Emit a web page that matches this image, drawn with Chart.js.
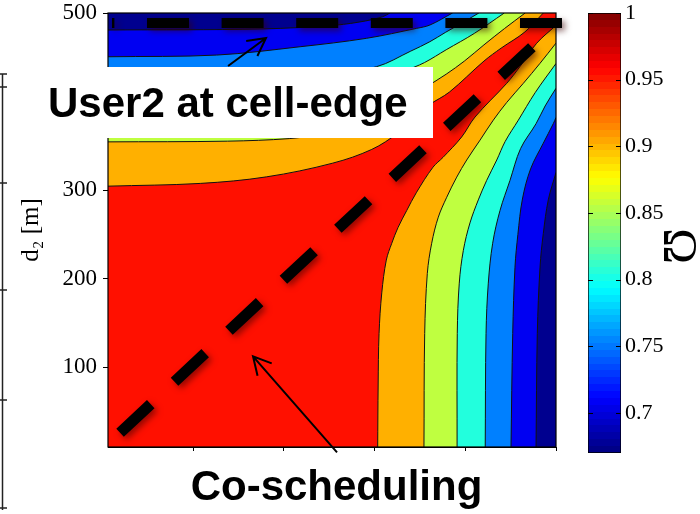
<!DOCTYPE html>
<html>
<head>
<meta charset="utf-8">
<script src="https://cdn.jsdelivr.net/npm/chart.js@4.4.0/dist/chart.umd.min.js"></script>
<style>
  body { margin: 0; background: #fff; }
  #wrap { position: relative; width: 700px; height: 514px; }
  #wrap canvas { position: absolute; left: 0; top: 0; }
</style>
</head>
<body>
<div id="wrap">
  <canvas id="main" width="700" height="514"></canvas>
  <canvas id="cbar" width="700" height="514"></canvas>
</div>
<script>
// axes (metres) and colour scale
var xLimits = [6.3, 500];
var yLimits = [10, 500];
var xTicks = [100, 200, 300, 400, 500];
var yTicks = [100, 200, 300, 400, 500];
var cbLimits = [0.67, 1];
var cbTicks = [0.7, 0.75, 0.8, 0.85, 0.9, 0.95, 1];

// contour lines as [d1, d2]
// rightLineN runs from the bottom edge to the right edge,
// upperLineN runs from the left edge to the top edge (same level)
var rightLine1 = [[478, 10], [479.4, 138], [482.4, 213], [486, 251], [491.5, 289], [500, 320]];
var upperLine1 = [[6.3, 480.8], [176, 482], [257.5, 486.4], [290, 491], [309, 495.8], [317, 500]];
var rightLine2 = [[450.4, 10], [452.3, 138], [454.8, 213], [458, 250], [463, 290], [472, 324], [486, 353], [497, 375], [500, 382]];
var upperLine2 = [[6.3, 450.6], [126, 452.5], [218, 461.9], [291, 471.4], [346.5, 482.7], [361, 486.4], [386, 500]];
var rightLine3 = [[422, 10], [422.9, 138], [425.4, 195], [430.2, 240], [438.3, 277], [449.3, 311], [461, 347], [478, 375], [488, 395], [500, 415]];
var upperLine3 = [[6.3, 422], [138, 423], [195, 425.5], [240, 429], [302, 439.3], [340, 457], [361, 467.6], [378, 478], [395, 488], [415, 500]];
var rightLine4 = [[391, 10], [391.2, 138], [393.4, 195], [397.9, 232], [405.2, 263], [414.4, 289], [423.6, 311], [434.7, 334], [444, 355], [458.5, 379], [477, 410], [500, 443]];
var upperLine4 = [[6.3, 391], [138, 391.2], [195, 393.4], [232, 397.9], [263, 405.2], [289, 414.4], [311, 423.6], [334, 434.7], [355, 444], [379, 458.5], [410, 477], [443, 500]];
var rightLine5 = [[354.5, 10], [355.3, 138], [358.2, 206], [363, 240], [370.3, 269.5], [379.6, 292], [390.6, 314.7], [401.6, 334], [416.3, 356.5], [430.9, 379], [445.7, 399], [464, 420.6], [482.4, 443.2], [500, 466]];
var upperLine5 = [[6.3, 354.5], [138, 355.3], [206, 358.2], [240, 363], [269.5, 370.3], [292, 379.6], [314.7, 390.6], [334, 401.6], [356.5, 416.3], [379, 430.9], [399, 445.7], [420.6, 464], [443.2, 482.4], [466, 500]];
var rightLine6 = [[303.5, 10], [304, 80], [305, 138], [308, 184], [313, 221], [319, 240], [326, 258], [335.5, 277], [346, 297], [364.5, 326], [375.5, 337], [396, 360], [410.7, 382.5], [445.7, 420.6], [460.3, 439.5], [478.7, 465.8], [500, 486]];
var upperLine6 = [[6.3, 304.5], [108, 307.6], [181, 315], [254, 330.5], [297, 346], [326, 364.5], [337, 375.5], [360, 396], [382.5, 410.7], [420.6, 445.7], [439.5, 460.3], [465.8, 478.7], [486, 500]];

var rightLines = [rightLine1, rightLine2, rightLine3, rightLine4, rightLine5, rightLine6];
var upperLines = [upperLine1, upperLine2, upperLine3, upperLine4, upperLine5, upperLine6];

// annotations
var diagonal = [[19.6, 26], [473.6, 461.6]];
var edgeLine = [[10.7, 488.7], [506.6, 488.7]];
var arrowEdge = [[138.6, 440.1], [180.4, 471.8]];
var arrowCo = [[258.7, 4], [166.1, 112.4]];
var edgeLabel = 'User2 at cell-edge';
var coLabel = 'Co-scheduling';
var yTitle = 'd\u2082 [m]';
var cbTitle = '\u03A9';

var lowColor = '#00008f';
var levelColors = ['#0000f2', '#0080ff', '#22ffdd', '#bfff40', '#ffb000', '#ff1000'];
var curve = 0.35;

function pts(list) {
    return list.map(function (p) { return {x: p[0], y: p[1]}; });
}

// repeat the end points so the curve keeps sharp corners there
function ends(list) {
    return [list[0]].concat(list, [list[list.length - 1]]);
}

// area above a level: bottom-left corner, right line, top-right corner, upper line back
function region(r, u) {
    var corner0 = [xLimits[0], yLimits[0]];
    var corner1 = [xLimits[1], yLimits[1]];
    return pts([corner0, corner0].concat(ends(r), [corner1, corner1], ends(u.slice().reverse()), [corner0, corner0]));
}

var datasets = [];
for (var k = 0; k < 6; k++) {
    datasets.push({
        data: region(rightLines[k], upperLines[k]),
        fill: 'shape',
        backgroundColor: levelColors[k],
        borderWidth: 0,
        pointRadius: 0,
        tension: curve,
        order: 20 - k
    });
}
for (var k = 0; k < 6; k++) {
    [rightLines[k], upperLines[k]].forEach(function (line) {
        datasets.push({
            data: pts(line),
            fill: false,
            borderColor: '#111',
            borderWidth: 1,
            pointRadius: 0,
            tension: curve,
            order: 5
        });
    });
}
datasets.push({
    data: pts(diagonal),
    borderColor: '#000',
    borderWidth: 11,
    borderDash: [42, 32.6],
    borderCapStyle: 'butt',
    pointRadius: 0,
    shadow: true,
    order: 1
});
datasets.push({
    data: pts(edgeLine),
    borderColor: '#000',
    borderWidth: 10,
    borderDash: [42, 32.6],
    borderDashOffset: 39.6,
    borderCapStyle: 'butt',
    pointRadius: 0,
    clip: false,
    shadow: true,
    order: 0
});

function drawArrow(ctx, x1, y1, x2, y2) {
    var ang = Math.atan2(y1 - y2, x1 - x2), L = 20, h = 0.49;
    ctx.beginPath();
    ctx.moveTo(x1, y1);
    ctx.lineTo(x2, y2);
    ctx.moveTo(x2 + L * Math.cos(ang + h), y2 + L * Math.sin(ang + h));
    ctx.lineTo(x2, y2);
    ctx.lineTo(x2 + L * Math.cos(ang - h), y2 + L * Math.sin(ang - h));
    ctx.stroke();
}

var decor = {
    id: 'decor',
    beforeDatasetsDraw: function (chart) {
        var a = chart.chartArea, ctx = chart.ctx;
        ctx.save();
        ctx.fillStyle = lowColor;
        ctx.fillRect(a.left, a.top, a.right - a.left, a.bottom - a.top);
        ctx.restore();
    },
    beforeDatasetDraw: function (chart, args) {
        if (chart.data.datasets[args.index].shadow) {
            var ctx = chart.ctx;
            ctx.save();
            ctx.shadowColor = 'rgba(60,0,0,0.55)';
            ctx.shadowBlur = 6;
            ctx.shadowOffsetX = 3;
            ctx.shadowOffsetY = 3;
        }
    },
    afterDatasetDraw: function (chart, args) {
        if (chart.data.datasets[args.index].shadow) chart.ctx.restore();
    },
    afterDatasetsDraw: function (chart) {
        var a = chart.chartArea, ctx = chart.ctx;
        ctx.save();
        ctx.strokeStyle = '#000';
        ctx.lineWidth = 1.2;
        ctx.strokeRect(a.left, a.top, a.right - a.left, a.bottom - a.top);
        ctx.restore();
    },
    afterDraw: function (chart) {
        var ctx = chart.ctx, xs = chart.scales.x, ys = chart.scales.y;
        ctx.save();
        ctx.fillStyle = '#fff';
        ctx.fillRect(8, 451, 570, 63);
        ctx.fillRect(24, 67, 409, 71);

        ctx.fillStyle = '#000';
        ctx.font = 'bold 42px "Liberation Sans", Arial, sans-serif';
        ctx.textBaseline = 'alphabetic';
        ctx.textAlign = 'left';
        ctx.fillText(edgeLabel, 48, 117);
        ctx.textAlign = 'center';
        ctx.fillText(coLabel, 336.5, 500);

        ctx.strokeStyle = '#000';
        ctx.lineWidth = 2;
        [arrowEdge, arrowCo].forEach(function (a) {
            drawArrow(ctx, xs.getPixelForValue(a[0][0]), ys.getPixelForValue(a[0][1]),
                xs.getPixelForValue(a[1][0]), ys.getPixelForValue(a[1][1]));
        });

        // edge of the neighbouring panel on the far left
        ctx.lineWidth = 1.5;
        ctx.strokeStyle = '#222';
        ctx.beginPath();
        ctx.moveTo(2.5, 74); ctx.lineTo(2.5, 510);
        [74, 87, 183, 290, 400, 508].forEach(function (y) {
            ctx.moveTo(0, y); ctx.lineTo(7, y);
        });
        ctx.stroke();
        ctx.restore();
    }
};

var serif = '"Times New Roman", "Liberation Serif", serif';

new Chart(document.getElementById('main'), {
    type: 'line',
    data: {datasets: datasets},
    options: {
        responsive: false,
        animation: false,
        devicePixelRatio: 1,
        layout: {padding: {left: 0, top: 13, right: 144, bottom: 57}},
        plugins: {legend: {display: false}, tooltip: {enabled: false}},
        scales: {
            x: {
                type: 'linear',
                min: xLimits[0],
                max: xLimits[1],
                afterBuildTicks: function (s) { s.ticks = xTicks.map(function (v) { return {value: v}; }); },
                afterFit: function (s) { s.height = 10; s.paddingLeft = 0; s.paddingRight = 0; },
                grid: {drawOnChartArea: false, drawTicks: true, tickLength: 4, color: '#000'},
                border: {display: true, color: '#000'},
                ticks: {display: false}
            },
            y: {
                type: 'linear',
                min: yLimits[0],
                max: yLimits[1],
                afterBuildTicks: function (s) { s.ticks = yTicks.map(function (v) { return {value: v}; }); },
                afterFit: function (s) { s.width = 108; s.paddingTop = 0; s.paddingBottom = 0; },
                grid: {drawOnChartArea: false, drawTicks: true, tickLength: 5, color: '#000'},
                border: {display: true, color: '#000'},
                ticks: {padding: 6, color: '#000', font: {family: serif, size: 23, lineHeight: 1}},
                title: {display: true, text: yTitle, color: '#000', padding: {top: 18, bottom: 0},
                    font: {family: serif, size: 25, lineHeight: 1.1}}
            }
        }
    },
    plugins: [decor]
});

// colour bar
function jet(t) {
    function c(v) { return Math.round(255 * Math.max(0, Math.min(1, v))); }
    return 'rgb(' + c(1.5 - Math.abs(4 * t - 3)) + ',' + c(1.5 - Math.abs(4 * t - 2)) + ',' + c(1.5 - Math.abs(4 * t - 1)) + ')';
}

var cbDecor = {
    id: 'cbDecor',
    afterDraw: function (chart) {
        var ctx = chart.ctx, a = chart.chartArea, ys = chart.scales.y;
        ctx.save();
        ctx.strokeStyle = '#000';
        ctx.lineWidth = 1;
        ctx.beginPath();
        cbTicks.forEach(function (v) {
            var y = Math.round(ys.getPixelForValue(v)) + 0.5;
            ctx.moveTo(a.left, y); ctx.lineTo(a.left + 5, y);
            ctx.moveTo(a.right - 5, y); ctx.lineTo(a.right, y);
        });
        ctx.stroke();
        ctx.translate(680, 246);
        ctx.rotate(Math.PI / 2);
        ctx.fillStyle = '#000';
        ctx.font = '48px ' + serif;
        ctx.textAlign = 'center';
        ctx.textBaseline = 'alphabetic';
        ctx.fillText(cbTitle, 0, 16);
        ctx.restore();
    }
};

new Chart(document.getElementById('cbar'), {
    type: 'bar',
    data: {
        labels: [''],
        datasets: [{
            data: [cbLimits],
            backgroundColor: function (c) {
                var area = c.chart.chartArea;
                if (!area) return 'transparent';
                var g = c.chart.ctx.createLinearGradient(0, area.bottom, 0, area.top);
                for (var i = 0; i < 64; i++) {
                    var col = jet((i + 0.5) / 64);
                    g.addColorStop(i / 64, col);
                    g.addColorStop((i + 1) / 64, col);
                }
                return g;
            },
            borderColor: '#000',
            borderWidth: 1,
            borderSkipped: false,
            barPercentage: 1,
            categoryPercentage: 1
        }]
    },
    options: {
        responsive: false,
        animation: false,
        devicePixelRatio: 1,
        layout: {padding: {left: 588, top: 13, right: 0, bottom: 61}},
        plugins: {legend: {display: false}, tooltip: {enabled: false}},
        scales: {
            x: {display: false},
            y: {
                position: 'right',
                min: cbLimits[0],
                max: cbLimits[1],
                afterBuildTicks: function (s) { s.ticks = cbTicks.map(function (v) { return {value: v}; }); },
                afterFit: function (s) { s.width = 79; s.paddingTop = 0; s.paddingBottom = 0; },
                grid: {drawOnChartArea: false, drawTicks: false},
                border: {display: false},
                ticks: {
                    padding: 4,
                    color: '#000',
                    font: {family: serif, size: 22, lineHeight: 1},
                    callback: function (v) { return String(Math.round(v * 100) / 100); }
                }
            }
        }
    },
    plugins: [cbDecor]
});
</script>
</body>
</html>
